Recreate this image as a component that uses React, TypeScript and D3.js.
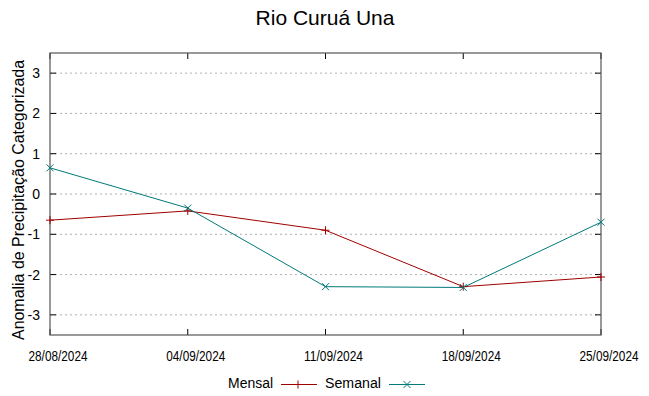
import React from "react";
import * as d3 from "d3";

const dates = ["28/08/2024", "04/09/2024", "11/09/2024", "18/09/2024", "25/09/2024"];
const mensal = [-0.65, -0.42, -0.9, -2.3, -2.06];
const semanal = [0.65, -0.35, -2.3, -2.32, -0.7];
const yTicks = [-3, -2, -1, 0, 1, 2, 3];

const W = 649, H = 396;
const L = 50, R = 601, T = 53, B = 335;
const RED = "#a00000";
const TEAL = "#007a7a";
const FONT = "'Liberation Sans', Arial, sans-serif";

export default function App() {
  const x = d3.scalePoint<string>().domain(dates).range([L, R]);
  const y = d3.scaleLinear().domain([-3.5, 3.5]).range([B, T]);
  const line = d3.line<number>().x((_, i) => x(dates[i])!).y(d => y(d));
  const plus = (cx: number, cy: number, c: string, k: string) => (
    <g key={k} stroke={c} strokeWidth={1}>
      <line x1={cx - 4} x2={cx + 4} y1={cy} y2={cy} />
      <line x1={cx} x2={cx} y1={cy - 4} y2={cy + 4} />
    </g>
  );
  const cross = (cx: number, cy: number, c: string, k: string) => (
    <g key={k} stroke={c} strokeWidth={1}>
      <line x1={cx - 3.5} x2={cx + 3.5} y1={cy - 3.5} y2={cy + 3.5} />
      <line x1={cx - 3.5} x2={cx + 3.5} y1={cy + 3.5} y2={cy - 3.5} />
    </g>
  );
  return (
    <svg width={W} height={H} style={{ position: "absolute", left: 0, top: 0, background: "#fff" }} fontFamily={FONT}>
      <rect width={W} height={H} fill="#fff" />
      <text x={325} y={25} textAnchor="middle" fontSize={21} fill="#000">Rio Curuá Una</text>
      {yTicks.map(t => (
        <g key={t}>
          <line x1={L} x2={R} y1={y(t)} y2={y(t)} stroke="#b0b0b0" strokeDasharray="2,3" />
          <line x1={L} x2={L + 6} y1={y(t)} y2={y(t)} stroke="#000" />
          <line x1={R - 6} x2={R} y1={y(t)} y2={y(t)} stroke="#000" />
          <text x={L - 10} y={y(t) + 5} textAnchor="end" fontSize={14} fill="#000">{t}</text>
        </g>
      ))}
      {dates.map(d => (
        <g key={d}>
          <line x1={x(d)} x2={x(d)} y1={B} y2={B - 6} stroke="#000" />
          <line x1={x(d)} x2={x(d)} y1={T} y2={T + 6} stroke="#000" />
          <text x={x(d)! + 8} y={361} textAnchor="middle" fontSize={14} textLength={59} lengthAdjust="spacingAndGlyphs" fill="#000">{d}</text>
        </g>
      ))}
      <rect x={L} y={T} width={R - L} height={B - T} fill="none" stroke="#555" strokeWidth={1.2} />
      <text transform={`translate(24,200) rotate(-90)`} textAnchor="middle" fontSize={16} textLength={280} lengthAdjust="spacingAndGlyphs" fill="#000">Anomalia de Precipitação Categorizada</text>
      <path d={line(mensal)!} fill="none" stroke={RED} strokeWidth={1} />
      <path d={line(semanal)!} fill="none" stroke={TEAL} strokeWidth={1} />
      {mensal.map((v, i) => plus(x(dates[i])!, y(v), RED, "m" + i))}
      {semanal.map((v, i) => cross(x(dates[i])!, y(v), TEAL, "s" + i))}
      <text x={228} y={388} fontSize={15.5} textLength={45} lengthAdjust="spacingAndGlyphs" fill="#000">Mensal</text>
      <line x1={281} x2={317} y1={384.5} y2={384.5} stroke={RED} />
      {plus(298, 384.5, RED, "lm")}
      <text x={325} y={388} fontSize={15.5} textLength={56} lengthAdjust="spacingAndGlyphs" fill="#000">Semanal</text>
      <line x1={389} x2={425} y1={384.5} y2={384.5} stroke={TEAL} />
      {cross(407, 384.5, TEAL, "ls")}
    </svg>
  );
}
